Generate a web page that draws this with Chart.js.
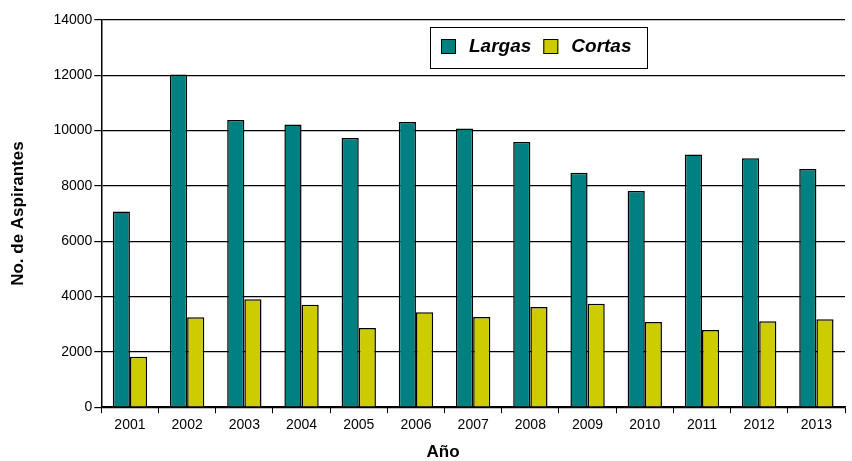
<!DOCTYPE html>
<html>
<head>
<meta charset="utf-8">
<script src="https://cdn.jsdelivr.net/npm/chart.js@4/dist/chart.umd.min.js"></script>
<style>
  html, body { margin: 0; padding: 0; background: #fff; }
  #wrap { width: 852px; height: 461px; }
</style>
</head>
<body>
<div id="wrap"><canvas id="chart"></canvas></div>
<script>
// Data
const years = ['2001', '2002', '2003', '2004', '2005', '2006', '2007', '2008', '2009', '2010', '2011', '2012', '2013'];
const largas = [7080, 12030, 10380, 10220, 9730, 10310, 10080, 9590, 8480, 7820, 9140, 9000, 8610];
const cortas = [1820, 3250, 3900, 3700, 2860, 3430, 3260, 3620, 3740, 3080, 2790, 3110, 3180];
const yTicks = [0, 2000, 4000, 6000, 8000, 10000, 12000, 14000];
const xTitle = 'Año';

const FONT = "'Liberation Sans', Arial, sans-serif";

// legend drawn inside the plot, boxed like the original
const boxedLegend = {
    id: 'boxedLegend',
    afterDraw: (chart) => {
        const ctx = chart.ctx;
        const x = 430, y = 27, w = 217, h = 41;
        ctx.save();
        ctx.fillStyle = '#fff';
        ctx.fillRect(x, y, w, h);
        ctx.strokeStyle = '#000';
        ctx.lineWidth = 1;
        ctx.strokeRect(x + 0.5, y + 0.5, w, h);
        ctx.font = "italic bold 19px " + FONT;
        ctx.textBaseline = 'middle';
        let cx = x + 11;
        chart.data.datasets.forEach(ds => {
            ctx.fillStyle = ds.backgroundColor;
            ctx.fillRect(cx, y + 12, 15, 15);
            ctx.strokeRect(cx + 0.5, y + 12.5, 14, 14);
            ctx.fillStyle = '#000';
            ctx.fillText(ds.label, cx + 28, y + 20);
            cx += 28 + ctx.measureText(ds.label).width + 12;
        });
        ctx.restore();
    }
};

// x axis title sits a little left of centre in the original
const xAxisTitle = {
    id: 'xAxisTitle',
    afterDraw: (chart) => {
        const ctx = chart.ctx;
        ctx.save();
        ctx.font = "bold 17px " + FONT;
        ctx.fillStyle = '#000';
        ctx.textAlign = 'center';
        ctx.textBaseline = 'middle';
        ctx.fillText(xTitle, 443, 452);
        ctx.restore();
    }
};

new Chart(document.getElementById('chart').getContext('2d'), {
    type: 'bar',
    data: {
        labels: years,
        datasets: [
            {
                label: 'Largas',
                data: largas,
                backgroundColor: '#008080',
                borderColor: '#000',
                borderWidth: 1.5
            },
            {
                label: 'Cortas',
                data: cortas,
                backgroundColor: '#CCCC00',
                borderColor: '#000',
                borderWidth: 1.5
            }
        ]
    },
    options: {
        responsive: true,
        maintainAspectRatio: false,
        animation: false,
        layout: { padding: { top: 20, right: 7, left: 8, bottom: 23 } },
        datasets: {
            bar: { categoryPercentage: 0.6, barPercentage: 1.0 }
        },
        scales: {
            x: {
                grid: {
                    offset: true,
                    drawOnChartArea: false,
                    drawTicks: true,
                    tickLength: 6,
                    color: '#000'
                },
                border: { color: '#000', width: 1.5 },
                ticks: {
                    color: '#000',
                    font: { family: FONT, size: 14 },
                    padding: 4
                }
            },
            y: {
                min: 0,
                max: 14000,
                afterBuildTicks: (axis) => {
                    axis.ticks = yTicks.map(v => ({ value: v }));
                },
                grid: {
                    color: '#000',
                    lineWidth: 1.2,
                    tickLength: 7
                },
                border: { color: '#000', width: 1.5 },
                ticks: {
                    color: '#000',
                    font: { family: FONT, size: 14 },
                    padding: 2,
                    callback: (v) => String(v)
                },
                title: {
                    display: true,
                    text: 'No. de Aspirantes',
                    color: '#000',
                    font: { family: FONT, size: 17, weight: 'bold' },
                    padding: { top: 0, bottom: 23 }
                }
            }
        },
        plugins: {
            legend: { display: false },
            tooltip: { enabled: false }
        }
    },
    plugins: [boxedLegend, xAxisTitle]
});
</script>
</body>
</html>
